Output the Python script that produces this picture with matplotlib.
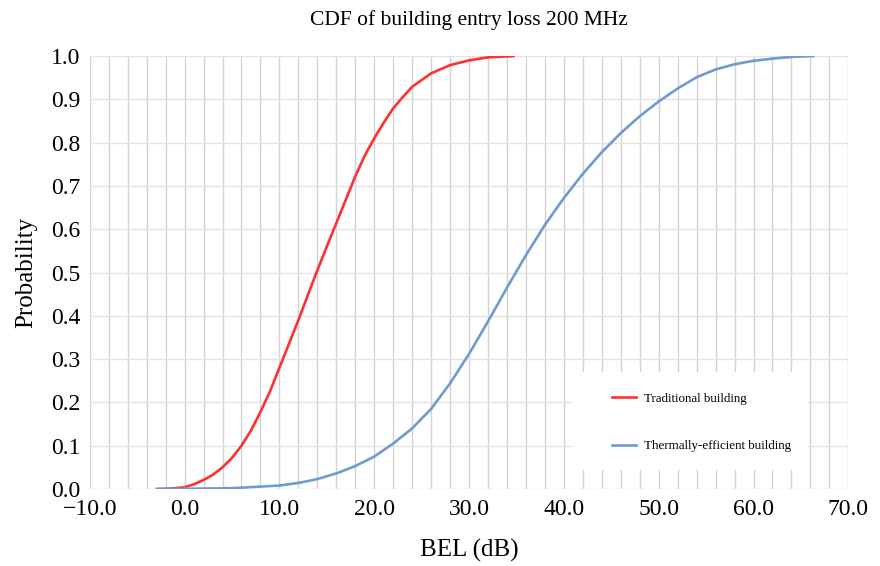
#!/usr/bin/env python3
"""CDF of building entry loss at 200 MHz, traditional vs thermally-efficient buildings."""

import matplotlib
matplotlib.use("Agg")
import matplotlib.pyplot as plt
from matplotlib.patches import Rectangle

plt.rcParams["font.family"] = ["Liberation Serif", "DejaVu Serif"]

# values
trad_bel = [-2.9, -1.5, 0.0, 1.0, 2.0, 3.0, 4.0, 5.0, 6.0, 7.0, 8.0, 9.0, 10.0,
            11.0, 12.0, 13.0, 14.0, 15.0, 16.0, 17.0, 18.0, 19.0, 20.0, 21.0,
            22.0, 22.8, 24.0, 26.0, 28.0, 30.0, 32.0, 34.7]
trad_cdf = [0.0, 0.001, 0.004, 0.011, 0.021, 0.033, 0.05, 0.072, 0.1, 0.135,
            0.178, 0.225, 0.28, 0.335, 0.39, 0.448, 0.505, 0.56, 0.614, 0.668,
            0.722, 0.77, 0.81, 0.846, 0.879, 0.9, 0.929, 0.96, 0.979, 0.99,
            0.997, 1.0]

therm_bel = [-2.9, 0.0, 5.0, 10.0, 12.0, 14.0, 16.0, 18.0, 20.0, 22.0, 24.0,
             26.0, 28.0, 30.0, 32.0, 34.0, 36.0, 38.0, 40.0, 42.0, 44.0, 46.0,
             48.0, 50.0, 52.0, 54.0, 56.0, 58.0, 60.0, 62.0, 64.0, 66.3]
therm_cdf = [0.0, 0.0005, 0.002, 0.008, 0.014, 0.023, 0.036, 0.053, 0.075, 0.105,
             0.14, 0.185, 0.244, 0.312, 0.387, 0.465, 0.54, 0.61, 0.672, 0.728,
             0.778, 0.822, 0.861, 0.895, 0.925, 0.951, 0.969, 0.981, 0.989, 0.994,
             0.998, 1.0]

x_ticks = [-10, 0, 10, 20, 30, 40, 50, 60, 70]
y_ticks = [0.0, 0.1, 0.2, 0.3, 0.4, 0.5, 0.6, 0.7, 0.8, 0.9, 1.0]

fig = plt.figure(figsize=(8.8, 5.66), dpi=100)
ax = fig.add_axes([0.102, 0.136, 0.862, 0.765])

ax.plot(trad_bel, trad_cdf, color="#ff3030", lw=1.9, label="Traditional building", zorder=3)
ax.plot(therm_bel, therm_cdf, color="#6f9bd1", lw=1.9, label="Thermally-efficient building", zorder=3)

ax.set_xlim(-10, 70)
ax.set_ylim(0, 1.0)
ax.set_xticks(x_ticks)
ax.set_xticklabels([f"{v:.1f}".replace("-", "\u2212") for v in x_ticks])
ax.set_yticks(y_ticks)
ax.set_yticklabels([f"{v:.1f}" for v in y_ticks])
ax.set_xticks(range(-10, 71, 2), minor=True)
ax.tick_params(which="both", length=0, labelsize=17, pad=7)

ax.set_axisbelow(True)
ax.grid(which="minor", axis="x", color="#d2d2d2", lw=1.0)
ax.grid(which="major", axis="x", color="#d2d2d2", lw=1.0)
ax.grid(which="major", axis="y", color="#e4e4e4", lw=1.0)
for s in ax.spines.values():
    s.set_visible(False)

# white legend panel
ax.add_patch(Rectangle((0.636, 0.044), 0.311, 0.226, transform=ax.transAxes,
                       facecolor="white", edgecolor="none", zorder=2))
ax.legend(loc="upper left", bbox_to_anchor=(0.688, 0.222), frameon=False,
          fontsize=9.4, handlelength=1.9, handletextpad=0.6, labelspacing=2.7,
          borderpad=0, borderaxespad=0)

ax.set_title("CDF of building entry loss 200 MHz", fontsize=15.5, pad=22)
ax.set_xlabel("BEL (dB)", fontsize=18, labelpad=14)
ax.set_ylabel("Probability", fontsize=18, labelpad=10)

fig.savefig("out.png", dpi=100)
